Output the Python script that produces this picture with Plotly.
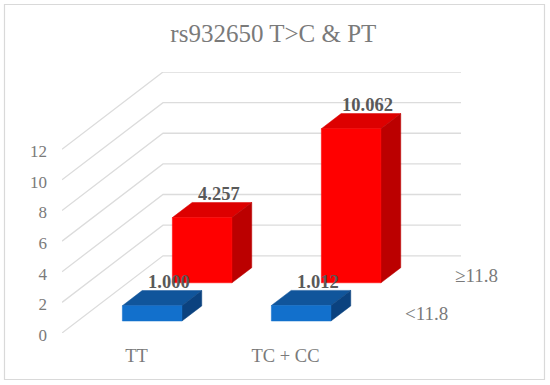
import plotly.graph_objects as go

# ---- data ----
TITLE = "rs932650 T>C & PT"
CATEGORIES = ["TT", "TC + CC"]
SERIES = ["<11.8", "≥11.8"]
VALUES_LOW = [1.000, 1.012]
VALUES_HIGH = [4.257, 10.062]
VALUE_TICKS = [0, 2, 4, 6, 8, 10, 12]

# ---- oblique projection of the chart's 3-D box onto the 2-D axes ----
W, H = 550, 385
L, R, T, B = 62, 461, 72, 333       # plot area in pixels
CAT_PX = 149.0                      # category width along the x axis
VAL_PX = 15.27                      # pixels per value unit
DX = 101.0 / CAT_PX                 # x shift at full depth, category units
DY = 77.0 / VAL_PX                  # y shift at full depth, value units
X_MAX = len(CATEGORIES) + DX
Y_MAX = VALUE_TICKS[-1] + DY
BAR_W = 0.40
BAR_D = 0.196
SERIES_NEAR = [0.155, 0.650]
COLORS = [
    {"front": "#1270CC", "top": "#10559B", "side": "#0B427F"},
    {"front": "#FF0000", "top": "#DD0000", "side": "#BB0000"},
]
FONT = "Liberation Serif, Times New Roman, serif"
GREY = "#7a7a7a"
LABEL = "#595959"
GRID = "#dcdcdc"


def proj(x, depth, v):
    return x + DX * depth, v + DY * depth


def face(points, color):
    xs, ys = zip(*[proj(*p) for p in points + points[:1]])
    return go.Scatter(x=xs, y=ys, mode="lines", fill="toself", fillcolor=color,
                      line=dict(width=0.5, color=color), hoverinfo="skip", showlegend=False)


fig = go.Figure()

for v in VALUE_TICKS:
    xs, ys = zip(proj(0, 0, v), proj(0, 1, v), proj(len(CATEGORIES), 1, v))
    fig.add_trace(go.Scatter(x=xs, y=ys, mode="lines", line=dict(color=GRID, width=1.3),
                             hoverinfo="skip", showlegend=False))

annotations = []
all_values = [VALUES_LOW, VALUES_HIGH]
for s in (1, 0):
    d0, d1 = SERIES_NEAR[s], SERIES_NEAR[s] + BAR_D
    for c, val in enumerate(all_values[s]):
        x0, x1 = c + 0.5 - BAR_W / 2, c + 0.5 + BAR_W / 2
        col = COLORS[s]
        fig.add_trace(face([(x0, d0, val), (x1, d0, val), (x1, d1, val), (x0, d1, val)], col["top"]))
        fig.add_trace(face([(x1, d0, 0), (x1, d1, 0), (x1, d1, val), (x1, d0, val)], col["side"]))
        fig.add_trace(face([(x0, d0, 0), (x1, d0, 0), (x1, d0, val), (x0, d0, val)], col["front"]))

# data labels drawn after all the bars
for s in (1, 0):
    d1 = SERIES_NEAR[s] + BAR_D
    for c, val in enumerate(all_values[s]):
        lx, ly = proj(c + 0.5, d1, val)
        annotations.append(dict(x=lx, y=ly, xref="x", yref="y", text=f"<b>{val:.3f}</b>",
                                showarrow=False, xanchor="center", yanchor="middle",
                                xshift=-3, yshift=8.5,
                                font=dict(family=FONT, size=18.5, color=LABEL)))

# series names along the depth axis
for s, name in enumerate(SERIES):
    lx, ly = proj(len(CATEGORIES), SERIES_NEAR[s] + BAR_D / 2, 0)
    annotations.append(dict(x=lx, y=ly, xref="x", yref="y", text=name, showarrow=False,
                            xanchor="left", yanchor="middle", xshift=17, yshift=0,
                            font=dict(family=FONT, size=19, color=GREY)))

fig.update_layout(
    width=W, height=H, autosize=False,
    margin=dict(l=L, r=W - R, t=T, b=H - B, pad=0),
    paper_bgcolor="white", plot_bgcolor="white", showlegend=False,
    title=dict(text=TITLE, x=0.497, xanchor="center", y=1 - 33.0 / H, yanchor="middle",
               yref="container", font=dict(family=FONT, size=25, color=GREY)),
    xaxis=dict(range=[0, X_MAX], tickvals=[i + 0.5 for i in range(len(CATEGORIES))],
               ticktext=CATEGORIES, showgrid=False, zeroline=False, showline=False, ticks="",
               ticklabelstandoff=9, tickfont=dict(family=FONT, size=18.5, color=GREY), fixedrange=True),
    yaxis=dict(range=[0, Y_MAX], tickvals=VALUE_TICKS, showgrid=False, zeroline=False,
               showline=False, ticks="", ticklabelstandoff=14, ticklabelshift=2,
               tickfont=dict(family=FONT, size=17, color=GREY), fixedrange=True),
    annotations=annotations,
    shapes=[dict(type="rect", xref="paper", yref="paper",
                 x0=(4.5 - L) / (R - L), x1=(544.5 - L) / (R - L),
                 y0=(B - 379.5) / (B - T), y1=(B - 4.5) / (B - T),
                 line=dict(color="#d9d9d9", width=1.2), layer="below")],
)

fig.write_html("out.html", config={"displayModeBar": False, "responsive": False},
               post_script="document.body.style.margin='0';document.body.style.overflow='hidden';")
